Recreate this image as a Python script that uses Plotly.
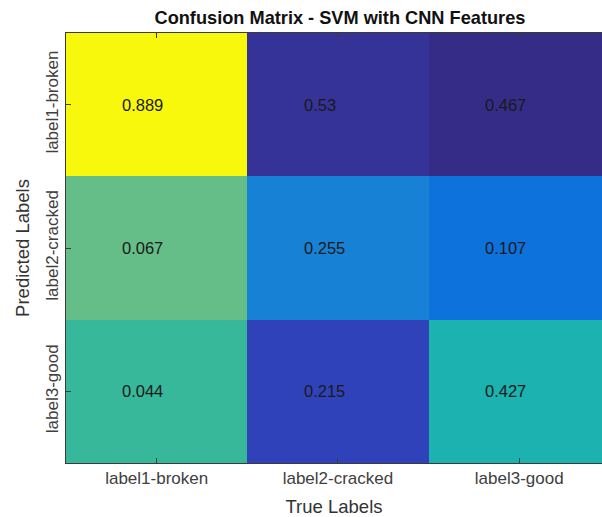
import plotly.graph_objects as go

# Class names (true labels along x, predicted labels along y)
true_labels = ["label1-broken", "label2-cracked", "label3-good"]
pred_labels = ["label1-broken", "label2-cracked", "label3-good"]

# Column-normalised confusion values, rows = predicted, cols = true
values = [
    [0.889, 0.53, 0.467],
    [0.067, 0.255, 0.107],
    [0.044, 0.215, 0.427],
]

# Colour level of each cell on the colour map (0 = darkest, 1 = yellow)
shade = [
    [1.00, 0.04, 0.00],
    [0.72, 0.36, 0.30],
    [0.62, 0.12, 0.55],
]

# parula-like colour map sampled at the levels used above
colorscale = [
    [0.00, "#352C88"],
    [0.04, "#353397"],
    [0.12, "#3042B9"],
    [0.30, "#0E72DD"],
    [0.36, "#1781D5"],
    [0.55, "#1BB2AF"],
    [0.62, "#37B89A"],
    [0.72, "#65BE88"],
    [1.00, "#F8F80C"],
]

W, H = 602, 517
L, R, T, B = 66, 0, 33, 54
cell_w = 181.3
plot_w = W - L - R
text_shift = 0.2  # value labels start a little left of each cell centre

FONT = "Liberation Sans, Arial, sans-serif"

fig = go.Figure(
    go.Heatmap(
        z=shade,
        x=list(range(len(true_labels))),
        y=list(range(len(pred_labels))),
        customdata=values,
        colorscale=colorscale,
        zmin=0,
        zmax=1,
        showscale=False,
        hovertemplate="%{customdata}<extra></extra>",
    )
)

# Value labels, left-aligned like MATLAB text()
for i, row in enumerate(values):
    for j, v in enumerate(row):
        fig.add_annotation(
            x=j - text_shift,
            y=i,
            xref="x",
            yref="y",
            text=f"{v:g}",
            showarrow=False,
            xanchor="left",
            yanchor="middle",
            font=dict(family=FONT, size=16.5, color="#1a1a1a"),
        )

axis_color = "#3a3a3a"
tick_font = dict(family=FONT, size=17, color="#404040")
title_font = dict(family=FONT, size=18.5, color="#333333")

fig.update_layout(
    width=W,
    height=H,
    margin=dict(l=L, r=R, t=T, b=B, pad=0),
    paper_bgcolor="white",
    plot_bgcolor="white",
    title=dict(
        text="<b>Confusion Matrix - SVM with CNN Features</b>",
        font=dict(family=FONT, size=18.2, color="#111111"),
        x=((len(true_labels) * cell_w) / 2 + 2) / plot_w,
        xref="paper",
        xanchor="center",
        y=1 - 18 / H,
        yref="container",
        yanchor="middle",
    ),
    xaxis=dict(
        range=[-0.5, -0.5 + plot_w / cell_w],
        tickmode="array",
        tickvals=list(range(len(true_labels))),
        ticktext=true_labels,
        tickfont=tick_font,
        ticks="inside",
        ticklen=5,
        tickcolor=axis_color,
        showline=True,
        linecolor=axis_color,
        linewidth=1,
        mirror="ticks",
        showgrid=False,
        zeroline=False,
        title=dict(text="True Labels", font=title_font, standoff=12),
        fixedrange=True,
    ),
    yaxis=dict(
        range=[2.5, -0.5],
        tickmode="array",
        tickvals=list(range(len(pred_labels))),
        ticktext=pred_labels,
        tickfont=tick_font,
        tickangle=-90,
        ticks="inside",
        ticklen=5,
        tickcolor=axis_color,
        showline=True,
        linecolor=axis_color,
        linewidth=1,
        mirror=False,
        showgrid=False,
        zeroline=False,
        title=dict(text="Predicted Labels", font=title_font, standoff=8),
        fixedrange=True,
    ),
)

fig.write_html("out.html")
